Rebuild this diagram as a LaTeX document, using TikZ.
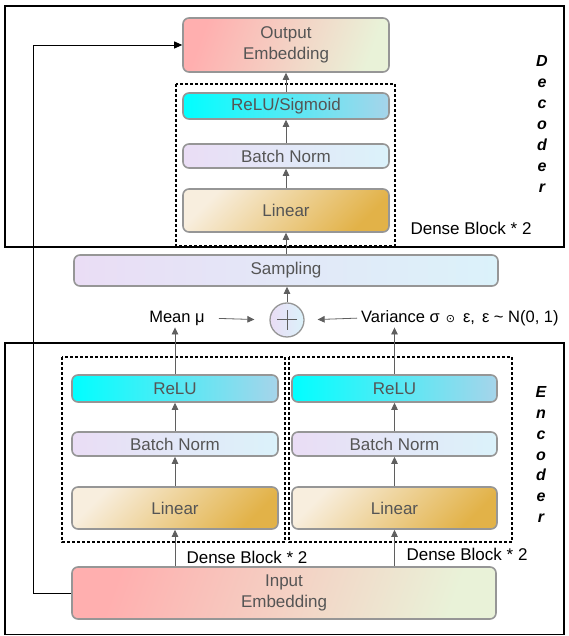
\documentclass[tikz,border=0pt]{standalone}
\usepackage{fontspec}
\setmainfont{Liberation Sans}
\newfontfamily\symfont{DejaVu Sans}
\usetikzlibrary{arrows.meta}
\definecolor{txtgray}{RGB}{85,85,85}
\definecolor{bordergray}{RGB}{150,150,150}
\definecolor{arrgray}{RGB}{95,95,95}
\definecolor{embA}{RGB}{255,175,175}
\definecolor{embM}{RGB}{246,221,196}
\definecolor{embB}{RGB}{233,242,216}
\definecolor{reluA}{RGB}{0,255,255}
\definecolor{reluB}{RGB}{166,212,234}
\definecolor{bnA}{RGB}{234,221,245}
\definecolor{bnB}{RGB}{219,242,250}
\definecolor{linA}{RGB}{248,238,222}
\definecolor{linM}{RGB}{242,222,182}
\definecolor{linB}{RGB}{226,178,72}
\begin{document}
\begin{tikzpicture}[x=1pt,y=1pt,
  blk/.style={draw=bordergray, line width=1.6pt, rounded corners=6pt, text=txtgray,
    font=\fontsize{17}{21}\selectfont, inner sep=0pt, align=center},
  emb/.style={blk, left color=embA, middle color=embM, right color=embB, shading angle=70},
  relu/.style={blk, left color=reluA, right color=reluB},
  bn/.style={blk, left color=bnA, right color=bnB},
  lin/.style={blk, left color=linA, middle color=linM, right color=linB, shading angle=45},
  outerbox/.style={draw=black, line width=1.3pt},
  dbox/.style={draw=black, line width=1.1pt, dash pattern=on 3pt off 2pt},
  garr/.style={draw=arrgray, line width=0.8pt, -{Triangle[length=7pt,width=6.5pt]}},
  barr/.style={draw=black, line width=0.8pt, -{Triangle[length=8pt,width=7pt]}},
  lbl/.style={font=\fontsize{16.5}{19}\selectfont, inner sep=0pt},
  dlbl/.style={font=\fontsize{17}{20}\selectfont, inner sep=0pt},
  vert/.style={font=\fontsize{16}{21}\selectfont\bfseries\itshape, align=center, inner sep=0pt}
]
\useasboundingbox (0,0) rectangle (568,636);
% outer boxes
\draw[outerbox] (5,630) rectangle (564,389);
\draw[outerbox] (5,293) rectangle (564,1.5);
% decoder
\node[emb, minimum width=206, minimum height=54] (out) at (286,591) {Output\\Embedding};
\draw[dbox] (176,552) rectangle (395,390);
\node[relu, minimum width=206, minimum height=26] (dre) at (286,530) {ReLU/Sigmoid};
\node[bn, minimum width=206, minimum height=24] (dbn) at (286,480) {Batch Norm};
\node[lin, minimum width=206, minimum height=43] (dli) at (286,425.5) {Linear};
\node[dlbl] (ddl) at (471,408) {Dense Block * 2};
\node[vert] (dec) at (542,512) {D\\e\\c\\o\\d\\e\\r};
% middle
\node[bn, minimum width=424, minimum height=31] (samp) at (286,365.5) {Sampling};
\node[circle, draw=bordergray, line width=1.3pt, left color=bnA, right color=bnB, minimum size=34, inner sep=0pt] (plus) at (287,316) {};
\draw[arrgray, line width=1pt] ([xshift=-10]plus.center) -- ([xshift=10]plus.center);
\draw[arrgray, line width=1pt] ([yshift=-10]plus.center) -- ([yshift=10]plus.center);
\node[lbl] (mean) at (177,318) {Mean μ};
\node[lbl, anchor=west] (var) at (361,318) {Variance σ\hspace{6pt}{\symfont\fontsize{11}{11}\selectfont ⊙}\hspace{8pt}ε,\hspace{7pt}ε \textasciitilde\ N(0, 1)};
% encoder
\draw[dbox] (62,279) rectangle (285,94);
\draw[dbox] (289,279) rectangle (512,94);
\node[relu, minimum width=206, minimum height=27] (lre) at (175,247.5) {ReLU};
\node[bn, minimum width=206, minimum height=24] (lbn) at (175,192) {Batch Norm};
\node[lin, minimum width=206, minimum height=42] (lli) at (175,128) {Linear};
\node[relu, minimum width=205, minimum height=27] (rre) at (394.5,247.5) {ReLU};
\node[bn, minimum width=205, minimum height=24] (rbn) at (394.5,192) {Batch Norm};
\node[lin, minimum width=205, minimum height=42] (rli) at (394.5,128) {Linear};
\node[emb, minimum width=424, minimum height=52] (inp) at (284,43) {Input\\Embedding};
\node[dlbl] (ldl) at (247,79) {Dense Block * 2};
\node[dlbl] (rdl) at (467,82) {Dense Block * 2};
\node[vert, font=\fontsize{16}{20.8}\selectfont\bfseries\itshape] (enc) at (541,181.5) {E\\n\\c\\o\\d\\e\\r};
% arrows
\coordinate (fb) at (33,316);
\draw[barr] (inp.west) -- (inp.west -| fb) -- (out.west -| fb) -- (out.west);
\draw[garr] (dre.north) -- (out.south);
\draw[garr] (dbn.north) -- (dre.south);
\draw[garr] (dli.north) -- (dbn.south);
\draw[garr] (samp.north -| dli) -- (dli.south);
\draw[garr] (plus.north) -- (plus.north |- samp.south);
\draw[garr, shorten <=14pt, shorten >=15pt] (mean.east) -- (plus.west);
\draw[garr, shorten <=4pt, shorten >=13pt] (var.west) -- (plus.east);
\draw[garr] (lre.north) -- ([yshift=-2pt]lre.north |- mean.south);
\draw[garr] (rre.north) -- ([yshift=-2pt]rre.north |- mean.south);
\draw[garr] (lbn.north) -- (lre.south);
\draw[garr] (lli.north) -- (lbn.south);
\draw[garr] (inp.north -| lli) -- (lli.south);
\draw[garr] (rbn.north) -- (rre.south);
\draw[garr] (rli.north) -- (rbn.south);
\draw[garr] (inp.north -| rli) -- (rli.south);
\end{tikzpicture}
\end{document}
